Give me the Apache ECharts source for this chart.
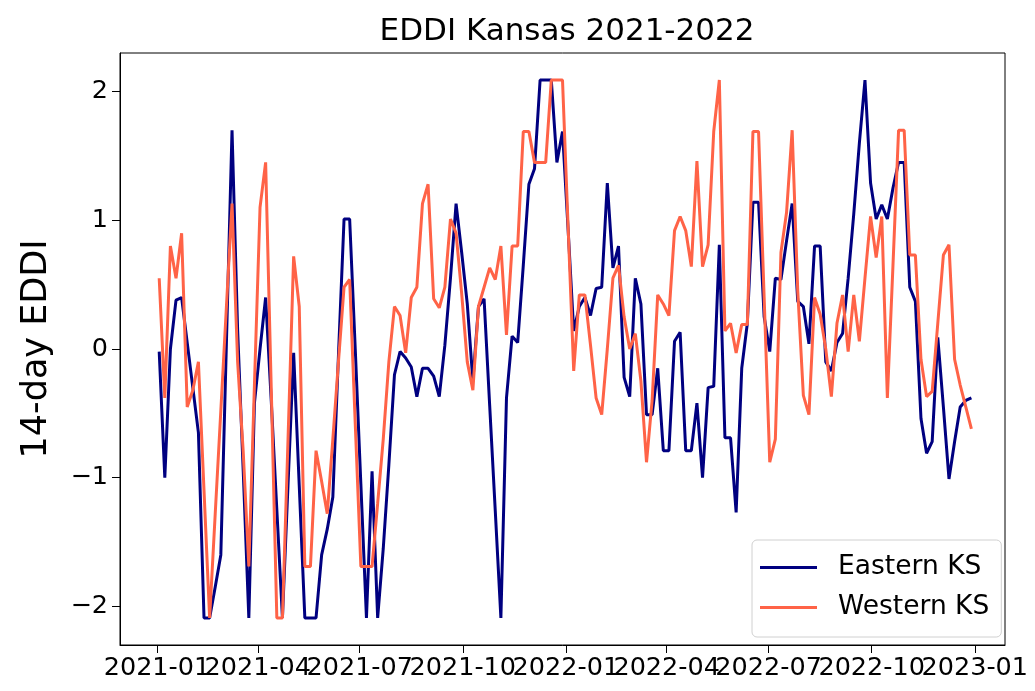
<!DOCTYPE html>
<html>
<head>
<meta charset="utf-8">
<title>EDDI Kansas 2021-2022</title>
<script src="https://cdn.jsdelivr.net/npm/echarts@6/dist/echarts.min.js"></script>
<style>
  html, body { margin: 0; padding: 0; background: #fff; }
  #chart { width: 1035px; height: 691px; }
</style>
</head>
<body>
<div id="chart"></div>
<script>
// 14-day EDDI, one value every 5 days (pentads) starting 2021-01-03
var startDate = [2021, 0, 3];
var stepDays = 5;

var eastern = [
  -0.02, -1.00, 0.00, 0.38, 0.40, 0.05, -0.30, -0.65, -2.09, -2.09,
  -1.85, -1.60, 0.05, 1.70, 0.15, -0.95, -2.09, -0.42, 0.00, 0.40,
  -0.40, -1.25, -2.09, -1.05, -0.03, -1.06, -2.09, -2.09, -2.09, -1.60,
  -1.40, -1.15, -0.05, 1.01, 1.01, 0.00, -1.05, -2.09, -0.95, -2.09,
  -1.55, -0.90, -0.20, -0.02, -0.07, -0.14, -0.37, -0.15, -0.15, -0.21,
  -0.37, 0.03, 0.55, 1.13, 0.75, 0.35, -0.25, 0.33, 0.39, -0.44,
  -1.26, -2.09, -0.38, 0.10, 0.05, 0.65, 1.28, 1.40, 2.09, 2.09,
  2.09, 1.45, 1.69, 0.93, 0.14, 0.33, 0.40, 0.26, 0.47, 0.48,
  1.29, 0.63, 0.80, -0.22, -0.37, 0.55, 0.35, -0.51, -0.51, -0.15,
  -0.79, -0.79, 0.06, 0.13, -0.79, -0.79, -0.42, -1.00, -0.30, -0.29,
  0.81, -0.69, -0.69, -1.27, -0.15, 0.20, 1.14, 1.14, 0.25, -0.02,
  0.55, 0.54, 0.84, 1.13, 0.37, 0.33, 0.04, 0.80, 0.80, -0.10,
  -0.17, 0.05, 0.12, 0.55, 1.05, 1.60, 2.09, 1.29, 1.01, 1.12,
  1.01, 1.25, 1.45, 1.45, 0.48, 0.37, -0.54, -0.81, -0.72, 0.09,
  -0.45, -1.01, -0.72, -0.45, -0.40, -0.38
];

var western = [
  0.55, -0.38, 0.80, 0.55, 0.90, -0.45, -0.32, -0.10, -1.10, -2.09,
  -1.28, -0.48, 0.33, 1.13, -0.10, -0.80, -1.69, -0.28, 1.10, 1.45,
  -0.30, -2.09, -2.09, -0.70, 0.72, 0.33, -1.69, -1.69, -0.79, -1.03,
  -1.28, -0.70, -0.10, 0.48, 0.54, -0.58, -1.69, -1.69, -1.69, -1.20,
  -0.70, -0.10, 0.33, 0.26, -0.03, 0.40, 0.48, 1.13, 1.28, 0.39,
  0.32, 0.48, 1.01, 0.90, 0.43, -0.10, -0.32, 0.33, 0.48, 0.63,
  0.54, 0.80, 0.11, 0.80, 0.80, 1.69, 1.69, 1.45, 1.45, 1.45,
  2.09, 2.09, 2.09, 0.95, -0.17, 0.42, 0.42, 0.03, -0.38, -0.51,
  0.00, 0.55, 0.65, 0.25, 0.00, 0.12, -0.25, -0.88, -0.40, 0.42,
  0.35, 0.26, 0.92, 1.03, 0.92, 0.64, 1.46, 0.64, 0.81, 1.69,
  2.09, 0.14, 0.20, -0.03, 0.19, 0.19, 1.69, 1.69, 0.40, -0.88,
  -0.70, 0.75, 1.06, 1.70, 0.45, -0.36, -0.51, 0.40, 0.27, 0.00,
  -0.37, 0.20, 0.42, -0.02, 0.42, 0.06, 0.55, 1.03, 0.71, 1.03,
  -0.38, 0.65, 1.70, 1.70, 0.73, 0.73, -0.08, -0.37, -0.33, 0.20,
  0.73, 0.81, -0.08, -0.28, -0.45, -0.62
];

var tickLabels = ['2021-01', '2021-04', '2021-07', '2021-10', '2022-01',
  '2022-04', '2022-07', '2022-10', '2023-01'];
var yTicks = [-2, -1, 0, 1, 2];

var FONT = 'DejaVu Sans';

function toTime(y, m, d) {
  return new Date(y, m, d).getTime();
}

var dates = eastern.map(function (v, i) {
  return toTime(startDate[0], startDate[1], startDate[2] + stepDays * i);
});
var tickTimes = tickLabels.map(function (s) {
  var p = s.split('-');
  return toTime(+p[0], +p[1] - 1, 1);
});

var xMin = toTime(2020, 10, 29);
var xMax = toTime(2023, 0, 28);
// blank entries at both ends so echarts' min/max label check never hides a real label
var xMarks = [xMin].concat(tickTimes, [xMax]);

function pairs(vals) {
  return vals.map(function (v, i) { return [dates[i], v]; });
}

var chart = echarts.init(document.getElementById('chart'), null, { renderer: 'canvas' });

var option = {
  backgroundColor: '#ffffff',
  animation: false,
  title: {
    text: 'EDDI Kansas 2021-2022',
    left: 562,
    textAlign: 'center',
    top: 11,
    textStyle: { fontFamily: FONT, fontSize: 31, fontWeight: 'normal', color: '#000' }
  },
  grid: {
    left: 120, right: 30, top: 53, bottom: 46,
    show: true, borderColor: '#000', borderWidth: 1,
    containLabel: false
  },
  legend: {
    data: ['Eastern KS', 'Western KS'],
    orient: 'vertical',
    left: 752,
    bottom: 54,
    icon: 'path://M0,0H57V3H0Z M73,0L73,3',
    itemWidth: 73,
    itemHeight: 3,
    itemGap: 13,
    padding: [14, 12, 16, 8],
    borderColor: '#d0d0d0',
    borderWidth: 1,
    borderRadius: 5,
    backgroundColor: 'rgba(255,255,255,0.8)',
    itemStyle: { borderWidth: 0 },
    textStyle: { fontFamily: FONT, fontSize: 26.5, color: '#000', lineHeight: 26 }
  },
  xAxis: {
    type: 'value',
    min: xMin,
    max: xMax,
    axisLine: { show: true, onZero: false, lineStyle: { color: '#000', width: 1 } },
    axisTick: {
      show: true, length: 8, inside: false,
      customValues: xMarks,
      lineStyle: { color: '#000', width: 1 }
    },
    axisLabel: {
      customValues: xMarks,
      showMinLabel: false,
      showMaxLabel: false,
      margin: 10,
      color: '#000',
      fontFamily: FONT,
      fontSize: 25.5,
      formatter: function (val) {
        if (val === xMin || val === xMax) return '';
        var d = new Date(val);
        var m = d.getMonth() + 1;
        return d.getFullYear() + '-' + (m < 10 ? '0' + m : m);
      }
    },
    splitLine: { show: false }
  },
  yAxis: {
    type: 'value',
    min: -2.3,
    max: 2.3,
    name: '14-day EDDI',
    nameLocation: 'middle',
    nameRotate: 90,
    nameGap: 66,
    nameTextStyle: { fontFamily: FONT, fontSize: 35, color: '#000' },
    axisLine: { show: true, onZero: false, lineStyle: { color: '#000', width: 1 } },
    axisTick: {
      show: true, length: 8, inside: false,
      customValues: yTicks,
      lineStyle: { color: '#000', width: 1 }
    },
    axisLabel: {
      customValues: yTicks,
      showMinLabel: true,
      showMaxLabel: true,
      margin: 12,
      color: '#000',
      fontFamily: FONT,
      fontSize: 25.5,
      formatter: function (v) {
        return v < 0 ? '\u2212' + Math.abs(v) : String(v);
      }
    },
    splitLine: { show: false }
  },
  series: [
    {
      name: 'Eastern KS',
      type: 'line',
      data: pairs(eastern),
      showSymbol: false,
      color: '#000080',
      lineStyle: { color: '#000080', width: 3 },
      z: 2
    },
    {
      name: 'Western KS',
      type: 'line',
      data: pairs(western),
      showSymbol: false,
      color: '#ff6347',
      lineStyle: { color: '#ff6347', width: 3 },
      z: 3
    }
  ]
};

chart.setOption(option);
</script>
</body>
</html>
